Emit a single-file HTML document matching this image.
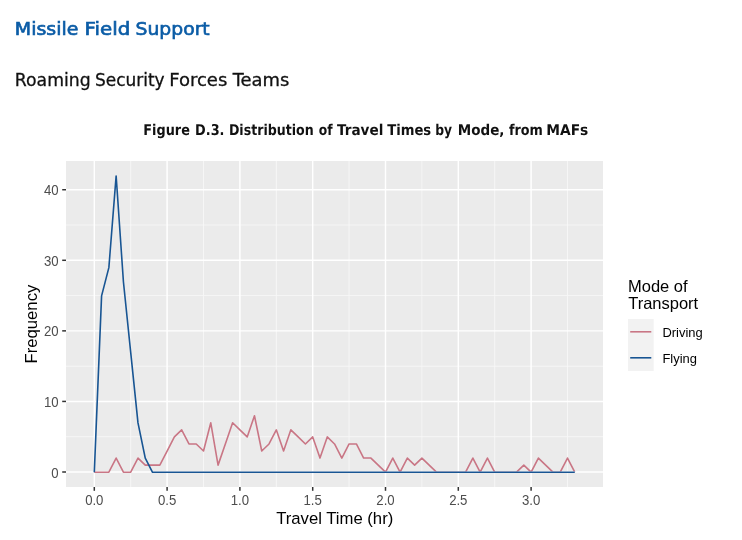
<!DOCTYPE html>
<html><head><meta charset="utf-8"><title>Missile Field Support</title>
<style>
html,body{margin:0;padding:0;background:#fff;width:742px;height:540px;overflow:hidden}
svg{display:block}
text{font-family:"Liberation Sans",Arial,sans-serif}
.ax{font-size:13.2px;fill:#4D4D4D}
.ti{font-size:16.7px;fill:#000}
.lg{font-size:12.95px;fill:#000}
.lt{font-size:16.5px;fill:#000}
.cap{font-family:"DejaVu Sans Condensed","DejaVu Sans",sans-serif;font-stretch:condensed;font-size:14.9px;font-weight:bold;fill:#111;text-rendering:geometricPrecision}
.h1{font-family:"DejaVu Sans",sans-serif;font-size:17.4px;fill:#0B5CA6;stroke:#0B5CA6;stroke-width:0.65px}
.h2{font-family:"DejaVu Sans",sans-serif;font-size:17.2px;fill:#111;stroke:#111;stroke-width:0.3px}
</style></head><body>
<svg width="742" height="540" viewBox="0 0 742 540">
<rect x="66" y="161" width="537" height="326" fill="#EBEBEB"/>
<line x1="130.70" y1="161" x2="130.70" y2="487" stroke="#F8F8F8" stroke-width="0.85"/>
<line x1="203.50" y1="161" x2="203.50" y2="487" stroke="#F8F8F8" stroke-width="0.85"/>
<line x1="276.30" y1="161" x2="276.30" y2="487" stroke="#F8F8F8" stroke-width="0.85"/>
<line x1="349.10" y1="161" x2="349.10" y2="487" stroke="#F8F8F8" stroke-width="0.85"/>
<line x1="421.90" y1="161" x2="421.90" y2="487" stroke="#F8F8F8" stroke-width="0.85"/>
<line x1="494.70" y1="161" x2="494.70" y2="487" stroke="#F8F8F8" stroke-width="0.85"/>
<line x1="567.50" y1="161" x2="567.50" y2="487" stroke="#F8F8F8" stroke-width="0.85"/>
<line x1="66" y1="436.71" x2="603" y2="436.71" stroke="#F8F8F8" stroke-width="0.85"/>
<line x1="66" y1="366.14" x2="603" y2="366.14" stroke="#F8F8F8" stroke-width="0.85"/>
<line x1="66" y1="295.57" x2="603" y2="295.57" stroke="#F8F8F8" stroke-width="0.85"/>
<line x1="66" y1="225.00" x2="603" y2="225.00" stroke="#F8F8F8" stroke-width="0.85"/>
<line x1="94.30" y1="161" x2="94.30" y2="487" stroke="#fff" stroke-width="1.45"/>
<line x1="167.10" y1="161" x2="167.10" y2="487" stroke="#fff" stroke-width="1.45"/>
<line x1="239.90" y1="161" x2="239.90" y2="487" stroke="#fff" stroke-width="1.45"/>
<line x1="312.70" y1="161" x2="312.70" y2="487" stroke="#fff" stroke-width="1.45"/>
<line x1="385.50" y1="161" x2="385.50" y2="487" stroke="#fff" stroke-width="1.45"/>
<line x1="458.30" y1="161" x2="458.30" y2="487" stroke="#fff" stroke-width="1.45"/>
<line x1="531.10" y1="161" x2="531.10" y2="487" stroke="#fff" stroke-width="1.45"/>
<line x1="66" y1="472.00" x2="603" y2="472.00" stroke="#fff" stroke-width="1.45"/>
<line x1="66" y1="401.43" x2="603" y2="401.43" stroke="#fff" stroke-width="1.45"/>
<line x1="66" y1="330.86" x2="603" y2="330.86" stroke="#fff" stroke-width="1.45"/>
<line x1="66" y1="260.29" x2="603" y2="260.29" stroke="#fff" stroke-width="1.45"/>
<line x1="66" y1="189.72" x2="603" y2="189.72" stroke="#fff" stroke-width="1.45"/>
<clipPath id="cr"><rect x="0" y="0" width="742" height="471.3"/><rect x="0" y="0" width="150" height="540"/></clipPath>
<path clip-path="url(#cr)" transform="translate(0,0.18)" d="M94.30,472.00 L101.58,472.00 L108.86,472.00 L116.14,457.89 L123.42,472.00 L130.70,472.00 L137.98,457.89 L145.26,464.94 L152.54,464.94 L159.82,464.94 L167.10,450.83 L174.38,436.71 L181.66,429.66 L188.94,443.77 L196.22,443.77 L203.50,450.83 L210.78,422.60 L218.06,464.94 L225.34,443.77 L232.62,422.60 L239.90,429.66 L247.18,436.71 L254.46,415.54 L261.74,450.83 L269.02,443.77 L276.30,429.66 L283.58,450.83 L290.86,429.66 L298.14,436.71 L305.42,443.77 L312.70,436.71 L319.98,457.89 L327.26,436.71 L334.54,443.77 L341.82,457.89 L349.10,443.77 L356.38,443.77 L363.66,457.89 L370.94,457.89 L378.22,464.94 L385.50,472.00 L392.78,457.89 L400.06,472.00 L407.34,457.89 L414.62,464.94 L421.90,457.89 L429.18,464.94 L436.46,472.00 L443.74,472.00 L451.02,472.00 L458.30,472.00 L465.58,472.00 L472.86,457.89 L480.14,472.00 L487.42,457.89 L494.70,472.00 L501.98,472.00 L509.26,472.00 L516.54,472.00 L523.82,464.94 L531.10,472.00 L538.38,457.89 L545.66,464.94 L552.94,472.00 L560.22,472.00 L567.50,457.89 L574.78,472.00" fill="none" stroke="#C97685" stroke-width="1.6" stroke-linejoin="round"/>
<path transform="translate(0,0.32)" d="M94.30,472.00 L101.58,295.57 L108.86,267.35 L116.14,175.61 L123.42,281.46 L130.70,352.03 L137.98,422.60 L145.26,457.89 L152.54,472.00 L159.82,472.00 L167.10,472.00 L174.38,472.00 L181.66,472.00 L188.94,472.00 L196.22,472.00 L203.50,472.00 L210.78,472.00 L218.06,472.00 L225.34,472.00 L232.62,472.00 L239.90,472.00 L247.18,472.00 L254.46,472.00 L261.74,472.00 L269.02,472.00 L276.30,472.00 L283.58,472.00 L290.86,472.00 L298.14,472.00 L305.42,472.00 L312.70,472.00 L319.98,472.00 L327.26,472.00 L334.54,472.00 L341.82,472.00 L349.10,472.00 L356.38,472.00 L363.66,472.00 L370.94,472.00 L378.22,472.00 L385.50,472.00 L392.78,472.00 L400.06,472.00 L407.34,472.00 L414.62,472.00 L421.90,472.00 L429.18,472.00 L436.46,472.00 L443.74,472.00 L451.02,472.00 L458.30,472.00 L465.58,472.00 L472.86,472.00 L480.14,472.00 L487.42,472.00 L494.70,472.00 L501.98,472.00 L509.26,472.00 L516.54,472.00 L523.82,472.00 L531.10,472.00 L538.38,472.00 L545.66,472.00 L552.94,472.00 L560.22,472.00 L567.50,472.00 L574.78,472.00" fill="none" stroke="#185593" stroke-width="1.6" stroke-linejoin="round"/>
<line x1="62.2" y1="472.00" x2="66" y2="472.00" stroke="#333" stroke-width="1.5"/>
<line x1="62.2" y1="401.43" x2="66" y2="401.43" stroke="#333" stroke-width="1.5"/>
<line x1="62.2" y1="330.86" x2="66" y2="330.86" stroke="#333" stroke-width="1.5"/>
<line x1="62.2" y1="260.29" x2="66" y2="260.29" stroke="#333" stroke-width="1.5"/>
<line x1="62.2" y1="189.72" x2="66" y2="189.72" stroke="#333" stroke-width="1.5"/>
<line x1="94.30" y1="487" x2="94.30" y2="490.8" stroke="#333" stroke-width="1.5"/>
<line x1="167.10" y1="487" x2="167.10" y2="490.8" stroke="#333" stroke-width="1.5"/>
<line x1="239.90" y1="487" x2="239.90" y2="490.8" stroke="#333" stroke-width="1.5"/>
<line x1="312.70" y1="487" x2="312.70" y2="490.8" stroke="#333" stroke-width="1.5"/>
<line x1="385.50" y1="487" x2="385.50" y2="490.8" stroke="#333" stroke-width="1.5"/>
<line x1="458.30" y1="487" x2="458.30" y2="490.8" stroke="#333" stroke-width="1.5"/>
<line x1="531.10" y1="487" x2="531.10" y2="490.8" stroke="#333" stroke-width="1.5"/>
<text transform="translate(58.7,477.50) scale(1,1.1)" text-anchor="end" class="ax">0</text>
<text transform="translate(58.7,406.93) scale(1,1.1)" text-anchor="end" class="ax">10</text>
<text transform="translate(58.7,336.36) scale(1,1.1)" text-anchor="end" class="ax">20</text>
<text transform="translate(58.7,265.79) scale(1,1.1)" text-anchor="end" class="ax">30</text>
<text transform="translate(58.7,195.22) scale(1,1.1)" text-anchor="end" class="ax">40</text>
<text transform="translate(94.30,504.8) scale(1,1.1)" text-anchor="middle" class="ax">0.0</text>
<text transform="translate(167.10,504.8) scale(1,1.1)" text-anchor="middle" class="ax">0.5</text>
<text transform="translate(239.90,504.8) scale(1,1.1)" text-anchor="middle" class="ax">1.0</text>
<text transform="translate(312.70,504.8) scale(1,1.1)" text-anchor="middle" class="ax">1.5</text>
<text transform="translate(385.50,504.8) scale(1,1.1)" text-anchor="middle" class="ax">2.0</text>
<text transform="translate(458.30,504.8) scale(1,1.1)" text-anchor="middle" class="ax">2.5</text>
<text transform="translate(531.10,504.8) scale(1,1.1)" text-anchor="middle" class="ax">3.0</text>
<text x="334.7" y="524.4" text-anchor="middle" class="ti">Travel Time (hr)</text>
<text transform="translate(37.2,324.1) rotate(-90)" text-anchor="middle" class="ti">Frequency</text>
<text x="628.0" y="291.7" class="lt">Mode of</text>
<text x="628.2" y="308.8" class="lt">Transport</text>
<rect x="628" y="319" width="25.7" height="52" fill="#F2F2F2"/>
<line x1="630.2" y1="331.8" x2="651.3" y2="331.8" stroke="#C97685" stroke-width="1.6"/>
<line x1="630.2" y1="357.8" x2="651.3" y2="357.8" stroke="#185593" stroke-width="1.6"/>
<text transform="translate(662.4,337.3) scale(1,1.05)" class="lg">Driving</text>
<text transform="translate(662.4,363.0) scale(1,1.05)" class="lg">Flying</text>
<text x="143.31" y="134.9" textLength="46.58" lengthAdjust="spacingAndGlyphs" class="cap">Figure</text><text x="195.11" y="134.9" textLength="29.38" lengthAdjust="spacingAndGlyphs" class="cap">D.3.</text><text x="228.93" y="134.9" textLength="84.68" lengthAdjust="spacingAndGlyphs" class="cap">Distribution</text><text x="318.8" y="134.9" textLength="13.8" lengthAdjust="spacingAndGlyphs" class="cap">of</text><text x="337.1" y="134.9" textLength="46.23" lengthAdjust="spacingAndGlyphs" class="cap">Travel</text><text x="387.2" y="134.9" textLength="44.0" lengthAdjust="spacingAndGlyphs" class="cap">Times</text><text x="435.25" y="134.9" textLength="16.83" lengthAdjust="spacingAndGlyphs" class="cap">by</text><text x="457.76" y="134.9" textLength="46.68" lengthAdjust="spacingAndGlyphs" class="cap">Mode,</text><text x="508.9" y="134.9" textLength="33.91" lengthAdjust="spacingAndGlyphs" class="cap">from</text><text x="546.24" y="134.9" textLength="42.09" lengthAdjust="spacingAndGlyphs" class="cap">MAFs</text>
<text x="14.86" y="34.9" textLength="63.44" lengthAdjust="spacingAndGlyphs" class="h1">Missile</text><text x="84.61" y="34.9" textLength="45.66" lengthAdjust="spacingAndGlyphs" class="h1">Field</text><text x="135.57" y="34.9" textLength="74.13" lengthAdjust="spacingAndGlyphs" class="h1">Support</text>
<text x="14.8" y="85.6" textLength="75.86" lengthAdjust="spacingAndGlyphs" class="h2">Roaming</text><text x="94.91" y="85.6" textLength="69.78" lengthAdjust="spacingAndGlyphs" class="h2">Security</text><text x="169.15" y="85.6" textLength="58.24" lengthAdjust="spacingAndGlyphs" class="h2">Forces</text><text x="232.7" y="85.6" textLength="56.71" lengthAdjust="spacingAndGlyphs" class="h2">Teams</text>
</svg>
</body></html>
